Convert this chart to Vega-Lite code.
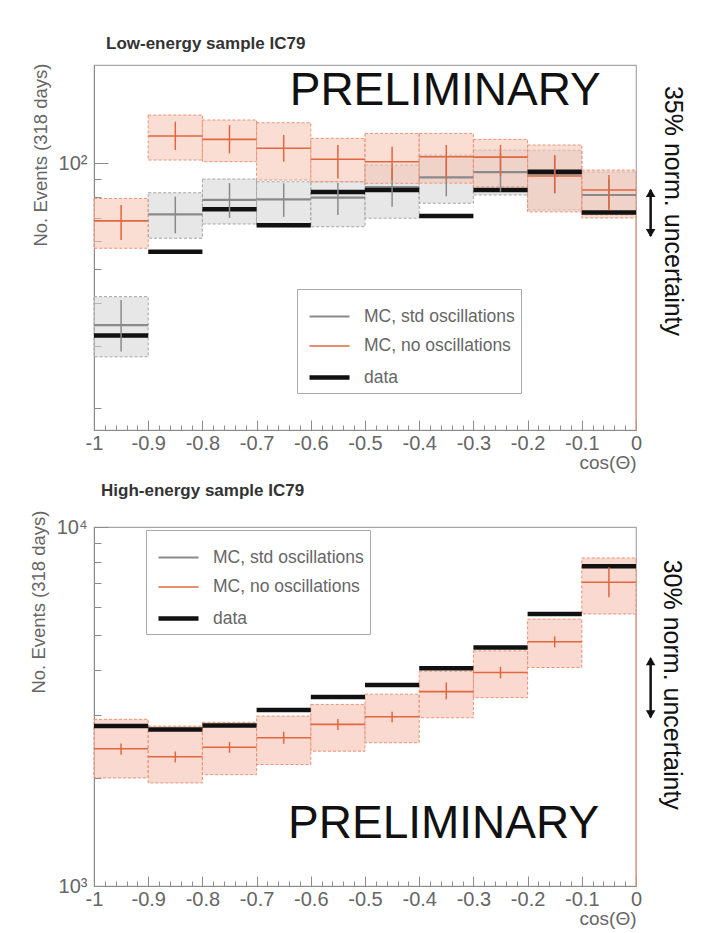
{
  "$schema": "https://vega.github.io/schema/vega-lite/v6.json",
  "background": "white",
  "padding": {"left": 28, "top": 34, "right": 5, "bottom": 5},
  "spacing": 8,
  "config": {
    "font": "Liberation Sans",
    "view": {"stroke": "#a8a8a8", "strokeWidth": 1.2},
    "axis": {"grid": false, "domainColor": "#8c8c8c", "tickColor": "#8c8c8c", "labelColor": "#666666", "labelFontSize": 20, "labelFont": "Liberation Sans", "titleColor": "#666666", "titleFontSize": 18.5, "titleFontWeight": "normal", "titleFont": "Liberation Sans", "labelOverlap": false, "labelFlush": false},
    "title": {"anchor": "start", "frame": "group", "fontSize": 17, "fontWeight": "bold", "color": "#333333", "font": "Liberation Sans"},
    "legend": {"title": null, "orient": "none", "fillColor": "white", "strokeColor": "#aaaaaa", "padding": 6, "symbolOffset": 4, "symbolType": "stroke", "symbolSize": 1600, "labelFontSize": 17.5, "labelColor": "#666666", "labelFont": "Liberation Sans", "labelOffset": 12, "rowPadding": -7.5}
  },
  "datasets": {
    "low": [
      {"series": "MC, std oscillations", "lo": -1, "hi": -0.9, "mid": -0.95, "c": 34.5, "bLo": 28.0, "bHi": 41.6, "eLo": 29.0, "eHi": 40.7},
      {"series": "MC, std oscillations", "lo": -0.9, "hi": -0.8, "mid": -0.85, "c": 71.5, "bLo": 61.1, "bHi": 82.4, "eLo": 63.1, "eHi": 80.3},
      {"series": "MC, std oscillations", "lo": -0.8, "hi": -0.7, "mid": -0.75, "c": 78.6, "bLo": 67.1, "bHi": 90.2, "eLo": 69.8, "eHi": 87.8},
      {"series": "MC, std oscillations", "lo": -0.7, "hi": -0.6, "mid": -0.65, "c": 78.9, "bLo": 65.9, "bHi": 88.6, "eLo": 70.3, "eHi": 87.7},
      {"series": "MC, std oscillations", "lo": -0.6, "hi": -0.5, "mid": -0.55, "c": 79.8, "bLo": 65.9, "bHi": 88.6, "eLo": 71.2, "eHi": 87.8},
      {"series": "MC, std oscillations", "lo": -0.5, "hi": -0.4, "mid": -0.45, "c": 85.6, "bLo": 69.7, "bHi": 98.9, "eLo": 75.2, "eHi": 97.0},
      {"series": "MC, std oscillations", "lo": -0.4, "hi": -0.3, "mid": -0.35, "c": 91.2, "bLo": 76.9, "bHi": 105.6, "eLo": 80.5, "eHi": 103.0},
      {"series": "MC, std oscillations", "lo": -0.3, "hi": -0.2, "mid": -0.25, "c": 94.4, "bLo": 81.2, "bHi": 109.1, "eLo": 83.0, "eHi": 107.0},
      {"series": "MC, std oscillations", "lo": -0.2, "hi": -0.1, "mid": -0.15, "c": 93.2, "bLo": 73.6, "bHi": 109.0, "eLo": 82.0, "eHi": 105.0},
      {"series": "MC, std oscillations", "lo": -0.1, "hi": 0, "mid": -0.05, "c": 81.2, "bLo": 71.2, "bHi": 94.5, "eLo": 74.0, "eHi": 90.0},
      {"series": "MC, no oscillations", "lo": -1, "hi": -0.9, "mid": -0.95, "c": 68.5, "bLo": 57.2, "bHi": 79.4, "eLo": 60.4, "eHi": 76.0},
      {"series": "MC, no oscillations", "lo": -0.9, "hi": -0.8, "mid": -0.85, "c": 119.7, "bLo": 102.2, "bHi": 137.4, "eLo": 109.2, "eHi": 131.5},
      {"series": "MC, no oscillations", "lo": -0.8, "hi": -0.7, "mid": -0.75, "c": 117.1, "bLo": 101.1, "bHi": 133.0, "eLo": 106.8, "eHi": 128.7},
      {"series": "MC, no oscillations", "lo": -0.7, "hi": -0.6, "mid": -0.65, "c": 110.4, "bLo": 89.6, "bHi": 130.6, "eLo": 101.1, "eHi": 120.5},
      {"series": "MC, no oscillations", "lo": -0.6, "hi": -0.5, "mid": -0.55, "c": 102.7, "bLo": 88.6, "bHi": 117.9, "eLo": 90.5, "eHi": 112.8},
      {"series": "MC, no oscillations", "lo": -0.5, "hi": -0.4, "mid": -0.45, "c": 101.1, "bLo": 87.7, "bHi": 121.8, "eLo": 89.6, "eHi": 111.5},
      {"series": "MC, no oscillations", "lo": -0.4, "hi": -0.3, "mid": -0.35, "c": 104.4, "bLo": 87.8, "bHi": 121.8, "eLo": 90.0, "eHi": 112.8},
      {"series": "MC, no oscillations", "lo": -0.3, "hi": -0.2, "mid": -0.25, "c": 104.2, "bLo": 85.7, "bHi": 117.1, "eLo": 92.0, "eHi": 112.8},
      {"series": "MC, no oscillations", "lo": -0.2, "hi": -0.1, "mid": -0.15, "c": 92.0, "bLo": 72.7, "bHi": 112.8, "eLo": 82.3, "eHi": 105.6},
      {"series": "MC, no oscillations", "lo": -0.1, "hi": 0, "mid": -0.05, "c": 83.9, "bLo": 69.8, "bHi": 95.7, "eLo": 73.6, "eHi": 92.6},
      {"series": "data", "lo": -1, "hi": -0.9, "c": 32.2},
      {"series": "data", "lo": -0.9, "hi": -0.8, "c": 55.9},
      {"series": "data", "lo": -0.8, "hi": -0.7, "c": 73.9},
      {"series": "data", "lo": -0.7, "hi": -0.6, "c": 66.6},
      {"series": "data", "lo": -0.6, "hi": -0.5, "c": 82.8},
      {"series": "data", "lo": -0.5, "hi": -0.4, "c": 83.9},
      {"series": "data", "lo": -0.4, "hi": -0.3, "c": 70.7},
      {"series": "data", "lo": -0.3, "hi": -0.2, "c": 83.9},
      {"series": "data", "lo": -0.2, "hi": -0.1, "c": 94.6},
      {"series": "data", "lo": -0.1, "hi": 0, "c": 72.4}
    ],
    "high": [
      {"series": "MC, no oscillations", "lo": -1, "hi": -0.9, "mid": -0.95, "c": 2411, "bLo": 2000, "bHi": 2913, "eLo": 2322, "eHi": 2496},
      {"series": "MC, no oscillations", "lo": -0.9, "hi": -0.8, "mid": -0.85, "c": 2290, "bLo": 1937, "bHi": 2789, "eLo": 2210, "eHi": 2370},
      {"series": "MC, no oscillations", "lo": -0.8, "hi": -0.7, "mid": -0.75, "c": 2436, "bLo": 2042, "bHi": 2857, "eLo": 2350, "eHi": 2520},
      {"series": "MC, no oscillations", "lo": -0.7, "hi": -0.6, "mid": -0.65, "c": 2587, "bLo": 2179, "bHi": 2974, "eLo": 2490, "eHi": 2690},
      {"series": "MC, no oscillations", "lo": -0.6, "hi": -0.5, "mid": -0.55, "c": 2820, "bLo": 2374, "bHi": 3205, "eLo": 2720, "eHi": 2920},
      {"series": "MC, no oscillations", "lo": -0.5, "hi": -0.4, "mid": -0.45, "c": 2962, "bLo": 2506, "bHi": 3422, "eLo": 2860, "eHi": 3060},
      {"series": "MC, no oscillations", "lo": -0.4, "hi": -0.3, "mid": -0.35, "c": 3479, "bLo": 2942, "bHi": 3966, "eLo": 3311, "eHi": 3690},
      {"series": "MC, no oscillations", "lo": -0.3, "hi": -0.2, "mid": -0.25, "c": 3931, "bLo": 3347, "bHi": 4518, "eLo": 3790, "eHi": 4080},
      {"series": "MC, no oscillations", "lo": -0.2, "hi": -0.1, "mid": -0.15, "c": 4789, "bLo": 4060, "bHi": 5540, "eLo": 4620, "eHi": 4960},
      {"series": "MC, no oscillations", "lo": -0.1, "hi": 0, "mid": -0.05, "c": 7015, "bLo": 5723, "bHi": 8200, "eLo": 6373, "eHi": 7727},
      {"series": "data", "lo": -1, "hi": -0.9, "c": 2789},
      {"series": "data", "lo": -0.9, "hi": -0.8, "c": 2730},
      {"series": "data", "lo": -0.8, "hi": -0.7, "c": 2801},
      {"series": "data", "lo": -0.7, "hi": -0.6, "c": 3091},
      {"series": "data", "lo": -0.6, "hi": -0.5, "c": 3361},
      {"series": "data", "lo": -0.5, "hi": -0.4, "c": 3631},
      {"series": "data", "lo": -0.4, "hi": -0.3, "c": 4043},
      {"series": "data", "lo": -0.3, "hi": -0.2, "c": 4618},
      {"series": "data", "lo": -0.2, "hi": -0.1, "c": 5723},
      {"series": "data", "lo": -0.1, "hi": 0, "c": 7780}
    ]
  },
  "resolve": {
    "scale": {"x": "independent", "y": "independent", "color": "independent", "strokeWidth": "independent", "fill": "independent", "stroke": "independent"},
    "axis": {"x": "independent", "y": "independent"},
    "legend": {"color": "independent", "strokeWidth": "independent"}
  },
  "vconcat": [
    {
      "title": {"text": "Low-energy sample IC79", "dx": 12, "offset": 10},
      "width": 542,
      "height": 365,
      "data": {"name": "low"},
      "resolve": {"axis": {"x": "independent"}},
      "layer": [
        {
          "transform": [{"filter": "datum.series != 'data'"}],
          "mark": {"type": "rect", "strokeDash": [3, 2], "strokeWidth": 1, "fillOpacity": 0.55},
          "encoding": {
            "x": {"field": "lo", "type": "quantitative", "scale": {"domain": [-1, 0], "nice": false, "zero": false},
              "axis": {"values": [-1,-0.9,-0.8,-0.7,-0.6,-0.5,-0.4,-0.3,-0.2,-0.1,0],
                "tickSize": -10,
                "labelExpr": "'' + round(datum.value*10)/10",
                "labelPadding": 13,
                "title": "cos(Θ)", "titleAnchor": "end", "titleAlign": "right", "titlePadding": 0, "titleFontSize": 19}},
            "x2": {"field": "hi"},
            "y": {"field": "bLo", "type": "quantitative", "scale": {"type": "log", "domain": [17.3, 191], "nice": false},
              "axis": {"values": [20, 30, 40, 50, 60, 70, 80, 90, 100],
                "tickSize": {"condition": {"test": "datum.value == 100", "value": -14}, "value": -7},
                "labelExpr": "datum.value == 100 ? '10²' : ''",
                "labelPadding": 21,
                "title": "No. Events (318 days)", "titleAnchor": "end", "titlePadding": 8, "titleY": -2}},
            "y2": {"field": "bHi"},
            "fill": {"field": "series", "type": "nominal", "scale": {"domain": ["MC, std oscillations", "MC, no oscillations"], "range": ["#d4d4d4", "#f6c2b0"]}, "legend": null},
            "stroke": {"field": "series", "type": "nominal", "scale": {"domain": ["MC, std oscillations", "MC, no oscillations"], "range": ["#a6a6a6", "#eb9174"]}, "legend": null}
          }
        },
        {
          "mark": {"type": "rule"},
          "encoding": {
            "x": {"field": "lo", "type": "quantitative",
              "axis": {"orient": "bottom", "values": [-0.98,-0.96,-0.94,-0.92,-0.88,-0.86,-0.84,-0.82,-0.78,-0.76,-0.74,-0.72,-0.68,-0.66,-0.64,-0.62,-0.58,-0.56,-0.54,-0.52,-0.48,-0.46,-0.44,-0.42,-0.38,-0.36,-0.34,-0.32,-0.28,-0.26,-0.24,-0.22,-0.18,-0.16,-0.14,-0.12,-0.08,-0.06,-0.04,-0.02],
                "tickSize": -5, "labels": false, "domain": false, "title": null}},
            "x2": {"field": "hi"},
            "y": {"field": "c", "type": "quantitative"},
            "color": {"field": "series", "type": "nominal", "scale": {"domain": ["MC, std oscillations", "MC, no oscillations", "data"], "range": ["#8a8a8a", "#e2663f", "#111111"]},
              "legend": {"legendX": 203, "legendY": 224}},
            "strokeWidth": {"field": "series", "type": "nominal", "scale": {"type": "ordinal", "domain": ["MC, std oscillations", "MC, no oscillations", "data"], "range": [2.2, 1.6, 4.5]},
              "legend": {"legendX": 203, "legendY": 224}}
          }
        },
        {
          "transform": [{"filter": "datum.series != 'data'"}],
          "mark": {"type": "rule", "strokeWidth": 1.5},
          "encoding": {
            "x": {"field": "mid", "type": "quantitative", "axis": null},
            "y": {"field": "eLo", "type": "quantitative"},
            "y2": {"field": "eHi"},
            "color": {"field": "series", "type": "nominal", "legend": null}
          }
        },
        {
          "transform": [{"filter": "datum.series == 'MC, no oscillations' && datum.hi == 0"}],
          "mark": {"type": "rule", "strokeWidth": 1.2, "color": "#e89a84"},
          "encoding": {
            "x": {"field": "hi", "type": "quantitative", "axis": null},
            "y": {"field": "bLo", "type": "quantitative"},
            "y2": {"datum": 17.3}
          }
        },
        {
          "data": {"values": [{}]},
          "mark": {"type": "text", "text": "PRELIMINARY", "font": "Liberation Sans", "fontSize": 46, "color": "#111111", "align": "center", "baseline": "alphabetic"},
          "encoding": {"x": {"datum": -0.352, "axis": null}, "y": {"datum": 146.7}}
        },
        {
          "data": {"values": [{}]},
          "mark": {"type": "text", "text": "35% norm. uncertainty", "font": "Liberation Sans", "fontSize": 25, "color": "#111111", "align": "center", "baseline": "middle", "angle": 90},
          "encoding": {"x": {"datum": 0.068, "axis": null}, "y": {"datum": 73.1}}
        },
        {
          "data": {"values": [{}]},
          "mark": {"type": "rule", "strokeWidth": 2.5, "color": "#111111"},
          "encoding": {"x": {"datum": 0.027, "axis": null}, "y": {"datum": 84.0}, "y2": {"datum": 62.0}}
        },
        {
          "data": {"values": [{}]},
          "mark": {"type": "point", "shape": "triangle-up", "filled": true, "size": 90, "color": "#111111", "opacity": 1},
          "encoding": {"x": {"datum": 0.027, "axis": null}, "y": {"datum": 82.3}}
        },
        {
          "data": {"values": [{}]},
          "mark": {"type": "point", "shape": "triangle-down", "filled": true, "size": 90, "color": "#111111", "opacity": 1},
          "encoding": {"x": {"datum": 0.027, "axis": null}, "y": {"datum": 63.2}}
        }
      ]
    },
    {
      "title": {"text": "High-energy sample IC79", "dx": 7, "offset": 10},
      "width": 542,
      "height": 359,
      "data": {"name": "high"},
      "resolve": {"axis": {"x": "independent"}},
      "layer": [
        {
          "transform": [{"filter": "datum.series != 'data'"}],
          "mark": {"type": "rect", "strokeDash": [3, 2], "strokeWidth": 1, "fillOpacity": 0.6},
          "encoding": {
            "x": {"field": "lo", "type": "quantitative", "scale": {"domain": [-1, 0], "nice": false, "zero": false},
              "axis": {"values": [-1,-0.9,-0.8,-0.7,-0.6,-0.5,-0.4,-0.3,-0.2,-0.1,0],
                "tickSize": -10,
                "labelExpr": "'' + round(datum.value*10)/10",
                "labelPadding": 13,
                "title": "cos(Θ)", "titleAnchor": "end", "titleAlign": "right", "titlePadding": 0, "titleFontSize": 19}},
            "x2": {"field": "hi"},
            "y": {"field": "bLo", "type": "quantitative", "scale": {"type": "log", "domain": [1000, 10000], "nice": false},
              "axis": {"values": [1000, 2000, 3000, 4000, 5000, 6000, 7000, 8000, 9000, 10000],
                "tickSize": {"condition": {"test": "datum.value == 1000 || datum.value == 10000", "value": -14}, "value": -7},
                "labelExpr": "datum.value == 1000 ? '10³' : (datum.value == 10000 ? '10⁴' : '')",
                "labelPadding": 21,
                "title": "No. Events (318 days)", "titleAnchor": "end", "titlePadding": 8, "titleY": -17}},
            "y2": {"field": "bHi"},
            "fill": {"field": "series", "type": "nominal", "scale": {"domain": ["MC, std oscillations", "MC, no oscillations"], "range": ["#d4d4d4", "#f6c2b0"]}, "legend": null},
            "stroke": {"field": "series", "type": "nominal", "scale": {"domain": ["MC, std oscillations", "MC, no oscillations"], "range": ["#a6a6a6", "#eb9174"]}, "legend": null}
          }
        },
        {
          "mark": {"type": "rule"},
          "encoding": {
            "x": {"field": "lo", "type": "quantitative",
              "axis": {"orient": "bottom", "values": [-0.98,-0.96,-0.94,-0.92,-0.88,-0.86,-0.84,-0.82,-0.78,-0.76,-0.74,-0.72,-0.68,-0.66,-0.64,-0.62,-0.58,-0.56,-0.54,-0.52,-0.48,-0.46,-0.44,-0.42,-0.38,-0.36,-0.34,-0.32,-0.28,-0.26,-0.24,-0.22,-0.18,-0.16,-0.14,-0.12,-0.08,-0.06,-0.04,-0.02],
                "tickSize": -5, "labels": false, "domain": false, "title": null}},
            "x2": {"field": "hi"},
            "y": {"field": "c", "type": "quantitative"},
            "color": {"field": "series", "type": "nominal", "scale": {"domain": ["MC, std oscillations", "MC, no oscillations", "data"], "range": ["#8a8a8a", "#e2663f", "#111111"]},
              "legend": {"legendX": 52, "legendY": 3}},
            "strokeWidth": {"field": "series", "type": "nominal", "scale": {"type": "ordinal", "domain": ["MC, std oscillations", "MC, no oscillations", "data"], "range": [2.2, 1.6, 4.5]},
              "legend": {"legendX": 52, "legendY": 3}}
          }
        },
        {
          "transform": [{"filter": "datum.series != 'data'"}],
          "mark": {"type": "rule", "strokeWidth": 1.5},
          "encoding": {
            "x": {"field": "mid", "type": "quantitative", "axis": null},
            "y": {"field": "eLo", "type": "quantitative"},
            "y2": {"field": "eHi"},
            "color": {"field": "series", "type": "nominal", "legend": null}
          }
        },
        {
          "transform": [{"filter": "datum.series == 'MC, no oscillations' && datum.hi == 0"}],
          "mark": {"type": "rule", "strokeWidth": 1.2, "color": "#e89a84"},
          "encoding": {
            "x": {"field": "hi", "type": "quantitative", "axis": null},
            "y": {"field": "bLo", "type": "quantitative"},
            "y2": {"datum": 1000}
          }
        },
        {
          "data": {"values": [{}]},
          "mark": {"type": "text", "text": "PRELIMINARY", "font": "Liberation Sans", "fontSize": 46, "color": "#111111", "align": "center", "baseline": "alphabetic"},
          "encoding": {"x": {"datum": -0.355, "axis": null}, "y": {"datum": 1362}}
        },
        {
          "data": {"values": [{}]},
          "mark": {"type": "text", "text": "30% norm. uncertainty", "font": "Liberation Sans", "fontSize": 25, "color": "#111111", "align": "center", "baseline": "middle", "angle": 90},
          "encoding": {"x": {"datum": 0.067, "axis": null}, "y": {"datum": 3635}}
        },
        {
          "data": {"values": [{}]},
          "mark": {"type": "rule", "strokeWidth": 2.5, "color": "#111111"},
          "encoding": {"x": {"datum": 0.027, "axis": null}, "y": {"datum": 4300}, "y2": {"datum": 2950}}
        },
        {
          "data": {"values": [{}]},
          "mark": {"type": "point", "shape": "triangle-up", "filled": true, "size": 90, "color": "#111111", "opacity": 1},
          "encoding": {"x": {"datum": 0.027, "axis": null}, "y": {"datum": 4228}}
        },
        {
          "data": {"values": [{}]},
          "mark": {"type": "point", "shape": "triangle-down", "filled": true, "size": 90, "color": "#111111", "opacity": 1},
          "encoding": {"x": {"datum": 0.027, "axis": null}, "y": {"datum": 3006}}
        }
      ]
    }
  ]
}
